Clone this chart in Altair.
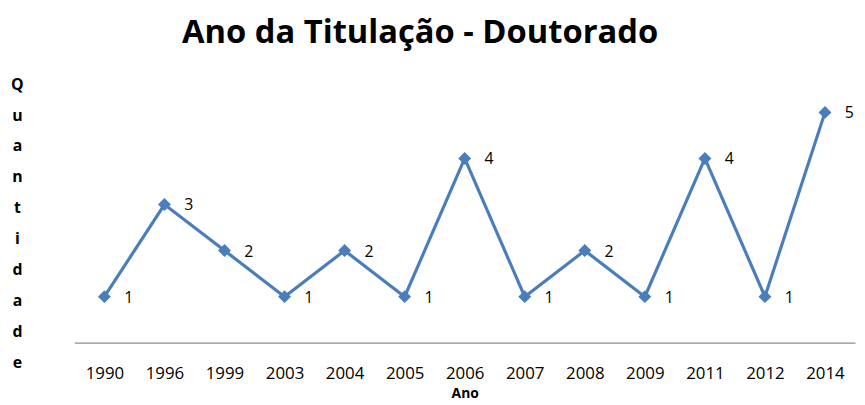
import altair as alt
import pandas as pd

anos = ["1990", "1996", "1999", "2003", "2004", "2005", "2006", "2007", "2008", "2009", "2011", "2012", "2014"]
quantidade = [1, 3, 2, 1, 2, 1, 4, 1, 2, 1, 4, 1, 5]
ytitle_letters = ["Q", "u", "a", "n", "t", "i", "d", "a", "d", "e"]

df = pd.DataFrame({"Ano": anos, "Quantidade": quantidade})

FONT = "Open Sans"
BLUE = "#4A7EBB"

x = alt.X("Ano:N", sort=anos, scale=alt.Scale(paddingInner=0, paddingOuter=0),
          axis=alt.Axis(title="Ano", labelAngle=0, ticks=False, domainColor="#8C8C8C",
                        domainWidth=1.3, labelFont=FONT, labelFontSize=17, labelColor="#000000",
                        labelPadding=23, titleFont=FONT, titleFontSize=14, titleFontWeight="bold",
                        titlePadding=5, titleColor="#000000"))
y = alt.Y("Quantidade:Q", scale=alt.Scale(domain=[0, 6], nice=False),
          axis=alt.Axis(title=ytitle_letters, titleAngle=0, grid=False, domain=False, ticks=False,
                        labels=False, titleFont=FONT, titleFontSize=16, titleFontWeight="bold",
                        titleLineHeight=31.2, titleX=-58, titleY=10, titleAlign="center",
                        titleBaseline="top", titleColor="#000000"))

base = alt.Chart(df).encode(x=x, y=y)
line = base.mark_line(color=BLUE, strokeWidth=3.2)
pts = base.mark_point(shape="diamond", filled=True, size=170, color=BLUE, opacity=1)
labels = base.mark_text(align="left", dx=20, dy=1, font=FONT, fontSize=16, color="#000000").encode(
    text="Quantidade:Q")

chart = (line + pts + labels).properties(
    width=788, height=279,
    padding={"left": 67, "top": 57, "right": 2, "bottom": 60},
    autosize=alt.AutoSizeParams(type="none"),
    title=alt.TitleParams("Ano da Titulação - Doutorado", font=FONT, fontSize=33,
                          fontWeight="bold", color="#000000", anchor="middle", dx=-45, offset=17),
).configure_view(stroke=None)

chart.save("out.html", embed_options={"renderer": "svg", "actions": False})
